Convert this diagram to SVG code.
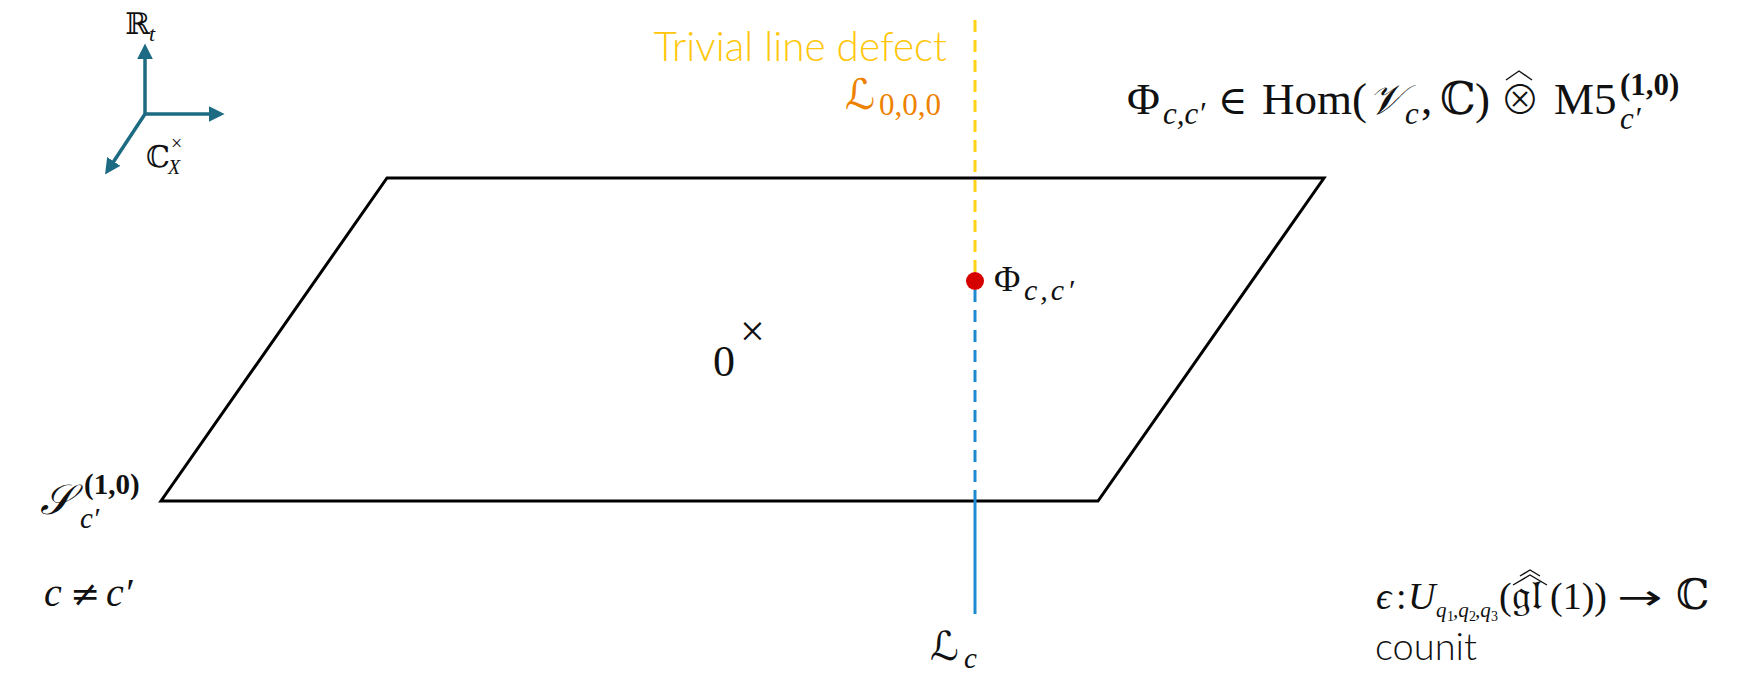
<svg xmlns="http://www.w3.org/2000/svg" width="1743" height="678" viewBox="0 0 1743 678">
<style>
.m{font-family:"Liberation Serif","DejaVu Serif","DejaVu Sans",serif;fill:#111}
.d{font-family:"DejaVu Serif","DejaVu Sans",serif;fill:#111}
.i{font-style:italic}
.b{font-weight:bold}
.sans{font-family:Lato,"Open Sans","Liberation Sans",sans-serif;font-weight:300}
.axis{stroke:#1d6b82;stroke-width:3.5;fill:none}
.hat{fill:none;stroke:#111;stroke-width:1.4}
</style>
<defs>
<marker id="ah" viewBox="0 0 10 10" refX="2" refY="5" markerWidth="4.5" markerHeight="4.5" orient="auto" markerUnits="strokeWidth">
<path d="M0,0 L10,5 L0,10 z" fill="#1d6b82"/>
</marker>
</defs>
<rect width="1743" height="678" fill="#ffffff"/>

<g id="axes">
<line class="axis" x1="145" y1="114" x2="145" y2="56" marker-end="url(#ah)"/>
<line class="axis" x1="145" y1="114" x2="212" y2="114" marker-end="url(#ah)"/>
<line class="axis" x1="145" y1="114" x2="112" y2="164" marker-end="url(#ah)"/>
<text class="m" x="125" y="34" font-size="30">ℝ</text>
<text class="m i" x="149" y="41" font-size="22">t</text>
<text class="m" x="146" y="167" font-size="30">ℂ</text>
<text class="m" x="171" y="150" font-size="20">×</text>
<text class="m i" x="168" y="174" font-size="20">X</text>
</g>

<g id="plane">
<polygon points="387,178 1324,178 1098,501 161,501" fill="none" stroke="#000" stroke-width="3" stroke-linejoin="miter"/>
<text class="m" x="713" y="376" font-size="44">0</text>
<text class="m" x="740" y="346" font-size="44">×</text>
</g>

<g id="connectors">
<line x1="975" y1="20" x2="975" y2="278" stroke="#FFD21A" stroke-width="3" stroke-dasharray="12,8"/>
<line x1="975" y1="290" x2="975" y2="497" stroke="#1E8AD2" stroke-width="3" stroke-dasharray="12,8"/>
<line x1="975" y1="497" x2="975" y2="614" stroke="#1E8AD2" stroke-width="3"/>
</g>

<g id="trivial-label">
<text class="sans" x="947" y="61" font-size="40.5" fill="#FFC60A" text-anchor="end">Trivial line defect</text>
<text class="m i" x="845" y="109" font-size="42" style="fill:#EE8200">ℒ</text>
<text class="m" x="879" y="115" font-size="31" style="fill:#EE8200">0,0,0</text>
</g>

<g id="phi-point">
<circle cx="975" cy="281" r="9" fill="#D60000"/>
<text class="m" x="994" y="291" font-size="36">Φ</text>
<text class="m i" x="1024" y="300" font-size="30" letter-spacing="3">c,c′</text>
</g>

<g id="phi-formula">
<text class="m" x="1127" y="114" font-size="45">Φ</text>
<text class="m i" x="1163" y="124" font-size="31">c,c′</text>
<text class="d" x="1218" y="114" font-size="40">∈</text>
<text class="m" x="1262" y="114" font-size="45">Hom(</text>
<text class="m i" x="1368" y="114" font-size="42">𝒱</text>
<text class="m i" x="1405" y="124" font-size="31">c</text>
<text class="m" x="1421" y="114" font-size="45">,</text>
<text class="m" x="1440" y="114" font-size="45">ℂ</text>
<text class="m" x="1475" y="114" font-size="45">)</text>
<text x="1500" y="114" font-size="40" style="font-family:'Noto Sans CJK JP','DejaVu Sans',sans-serif;font-weight:300;fill:#111">⊗</text>
<path class="hat" d="M1506,80 L1519,71 L1532,80"/>
<text class="m" x="1554" y="114" font-size="45">M5</text>
<text class="m b" x="1620" y="95" font-size="31">(1,0)</text>
<text class="m i" x="1620" y="129" font-size="31">c′</text>
</g>

<g id="surface-label">
<text class="m i" x="40" y="514" font-size="42">𝒮</text>
<text class="m b" x="84" y="494" font-size="29">(1,0)</text>
<text class="m i" x="80" y="528" font-size="29">c′</text>
<text class="m i" x="44" y="606" font-size="40">c</text>
<text class="d" x="70" y="606" font-size="36">≠</text>
<text class="m i" x="106" y="606" font-size="40">c′</text>
</g>

<g id="line-label">
<text class="m i" x="930" y="660" font-size="40">ℒ</text>
<text class="m i" x="964" y="668" font-size="29">c</text>
</g>

<g id="counit">
<text class="m i" x="1376" y="609" font-size="38">ϵ</text>
<text class="m" x="1396" y="609" font-size="38">:</text>
<text class="m i" x="1408" y="609" font-size="38">U</text>
<text class="m i" x="1436" y="617" font-size="21">q</text>
<text class="m" x="1447" y="621" font-size="14">1</text>
<text class="m i" x="1453" y="617" font-size="21">,q</text>
<text class="m" x="1469" y="621" font-size="14">2</text>
<text class="m i" x="1475" y="617" font-size="21">,q</text>
<text class="m" x="1491" y="621" font-size="14">3</text>
<text class="m" x="1499" y="609" font-size="38">(</text>
<text class="m" x="1512" y="609" font-size="42">𝔤𝔩</text>
<path class="hat" d="M1513,585 L1530,575 L1547,585"/>
<path class="hat" d="M1520,576 L1530,570 L1540,576"/>
<text class="m" x="1550" y="609" font-size="38">(1))</text>
<text x="0" y="0" font-size="34" transform="translate(1617,609) scale(1.6,1)" style="font-family:'DejaVu Sans',sans-serif;fill:#111">→</text>
<text class="m" x="1676" y="609" font-size="42">ℂ</text>
<text class="sans" x="1375" y="660" font-size="38" fill="#111">counit</text>
</g>
</svg>
